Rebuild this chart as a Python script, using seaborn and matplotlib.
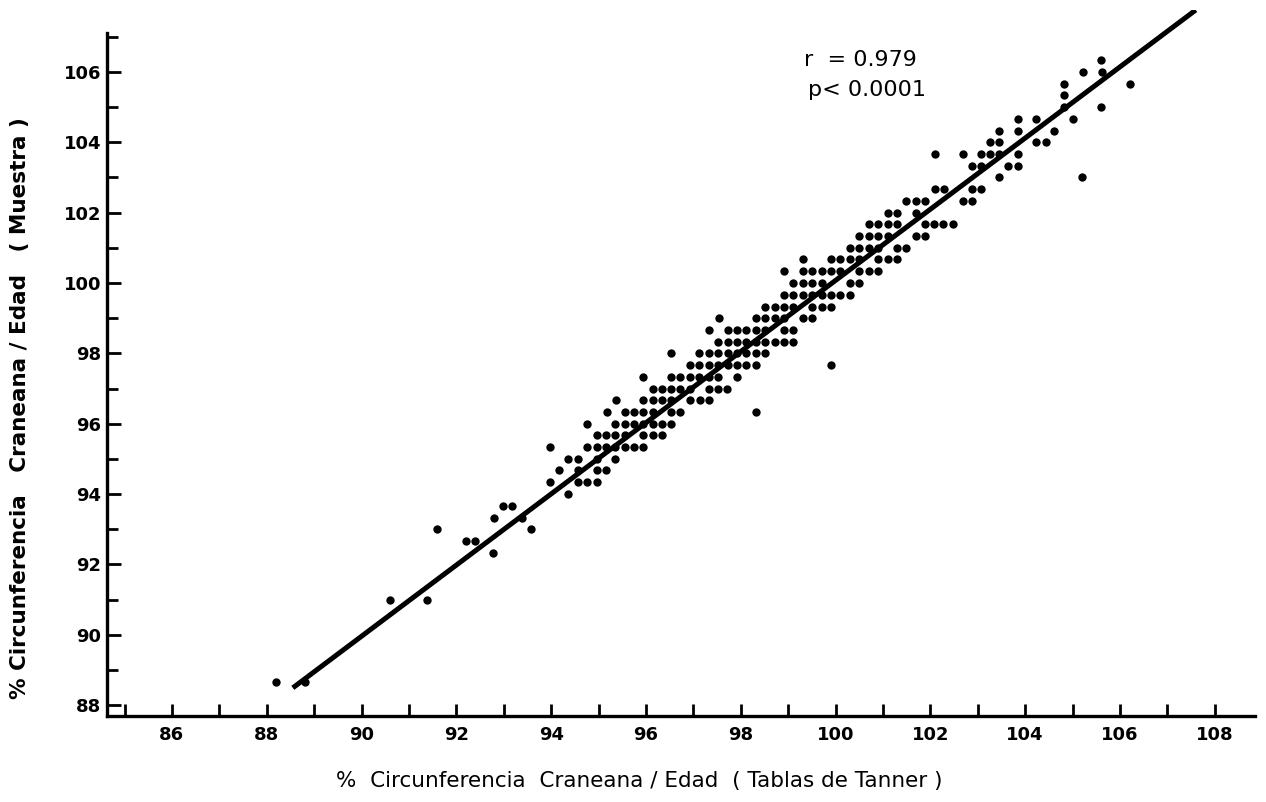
import matplotlib
matplotlib.use("Agg")
import matplotlib.pyplot as plt
import seaborn as sns
import pandas as pd
from matplotlib.ticker import FixedLocator

# ---------------- data ----------------
# y levels (% head circumference / age, sample) and the x values
# (% head circumference / age, Tanner tables) of the points on each level
muestra_levels = [88.67, 91.00, 92.33, 92.67, 93.00, 93.33, 93.67, 94.00,
                  94.33, 94.67, 95.00, 95.33, 95.67, 96.00, 96.33, 96.67,
                  97.00, 97.33, 97.67, 98.00, 98.33, 98.67, 99.00, 99.33,
                  99.67, 100.00, 100.33, 100.67, 101.00, 101.33, 101.67,
                  102.00, 102.33, 102.67, 103.00, 103.33, 103.67, 104.00,
                  104.33, 104.67, 105.00, 105.33, 105.67, 106.00, 106.33]
tanner_by_level = [
    [88.19, 88.81],
    [90.61, 91.39],
    [92.78],
    [92.20, 92.39],
    [91.60, 93.57],
    [92.80, 93.38],
    [92.99, 93.18],
    [94.36],
    [93.97, 94.56, 94.76, 94.96],
    [94.17, 94.57, 94.96, 95.16],
    [94.36, 94.56, 94.96, 95.35],
    [93.97, 94.76, 94.96, 95.16, 95.35, 95.56, 95.75, 95.94],
    [94.96, 95.16, 95.35, 95.56, 95.94, 96.14, 96.34],
    [94.76, 95.35, 95.56, 95.75, 95.94, 96.14, 96.34, 96.53],
    [95.17, 95.56, 95.75, 95.94, 96.14, 96.53, 96.72, 98.32],
    [95.36, 95.94, 96.14, 96.34, 96.53, 96.94, 97.14, 97.34],
    [96.14, 96.34, 96.53, 96.72, 96.93, 97.34, 97.53, 97.72],
    [95.94, 96.53, 96.72, 96.93, 97.13, 97.34, 97.53, 97.93],
    [96.93, 97.13, 97.34, 97.53, 97.74, 97.93, 98.12, 98.32, 99.90],
    [96.53, 97.13, 97.34, 97.53, 97.74, 97.93, 98.12, 98.32, 98.52],
    [97.53, 97.74, 97.93, 98.12, 98.32, 98.52, 98.72, 98.92, 99.11],
    [97.34, 97.74, 97.93, 98.12, 98.32, 98.52, 98.92, 99.11],
    [97.54, 98.32, 98.52, 98.72, 98.92, 99.32, 99.51],
    [98.52, 98.72, 98.92, 99.11, 99.51, 99.71, 99.90],
    [98.92, 99.11, 99.32, 99.51, 99.71, 99.90, 100.10, 100.30],
    [99.11, 99.32, 99.51, 99.71, 100.30, 100.50],
    [98.92, 99.32, 99.51, 99.71, 99.90, 100.10, 100.50, 100.70, 100.90],
    [99.32, 99.90, 100.10, 100.30, 100.50, 100.90, 101.10, 101.29],
    [100.30, 100.50, 100.70, 100.90, 101.29, 101.49],
    [100.50, 100.70, 100.90, 101.10, 101.70, 101.89],
    [100.70, 100.90, 101.10, 101.29, 101.89, 102.08, 102.27, 102.47],
    [101.10, 101.29, 101.70],
    [101.49, 101.70, 101.89, 102.68, 102.87],
    [102.10, 102.29, 102.87, 103.07],
    [103.45, 105.21],
    [102.87, 103.07, 103.64, 103.84],
    [102.10, 102.70, 103.07, 103.26, 103.45, 103.84],
    [103.26, 103.45, 104.24, 104.44],
    [103.45, 103.84, 104.61],
    [103.84, 104.24, 105.02],
    [104.83, 105.61],
    [104.83],
    [104.83, 106.21],
    [105.23, 105.63],
    [105.61],
]

# regression line end points
line_x = [88.55, 107.60]
line_y = [88.49, 107.76]

x_major = [86, 88, 90, 92, 94, 96, 98, 100, 102, 104, 106, 108]
x_minor = [85, 87, 89, 91, 93, 95, 97, 99, 101, 103, 105, 107]
y_major = [88, 90, 92, 94, 96, 98, 100, 102, 104, 106]
y_minor = [89, 91, 93, 95, 97, 99, 101, 103, 105, 107]

xlabel = "%  Circunferencia  Craneana / Edad  ( Tablas de Tanner )"
ylabel = "% Circunferencia   Craneana / Edad   ( Muestra )"
stat_r = "r  = 0.979"
stat_p = "p< 0.0001"

# ---------------- build table ----------------
rows = []
for yv, xs in zip(muestra_levels, tanner_by_level):
    for xv in xs:
        rows.append({"tanner": xv, "muestra": yv})
df = pd.DataFrame(rows)

# ---------------- plot ----------------
sns.set_theme(style="white")
plt.rcParams["font.family"] = ["DejaVu Sans"]

W, H = 1266, 802
fig = plt.figure(figsize=(W / 100, H / 100), dpi=100)
ax = fig.add_axes([107 / W, 1 - 716 / H, (1255 - 107) / W, (716 - 10) / H])

sns.scatterplot(data=df, x="tanner", y="muestra", ax=ax, color="black",
                marker="o", s=36, linewidth=0, legend=False, zorder=3)
ax.plot(line_x, line_y, color="black", lw=3.6, solid_capstyle="butt",
        zorder=4)

ax.set_xlim(84.63, 108.85)
ax.set_ylim(87.69, 107.76)

for side in ("top", "right"):
    ax.spines[side].set_visible(False)
for side in ("left", "bottom"):
    ax.spines[side].set_linewidth(2.4)
    ax.spines[side].set_color("black")
ax.spines["left"].set_bounds(87.69, 107.11)

ax.xaxis.set_major_locator(FixedLocator(x_major))
ax.xaxis.set_minor_locator(FixedLocator(x_minor))
ax.yaxis.set_major_locator(FixedLocator(y_major))
ax.yaxis.set_minor_locator(FixedLocator(y_minor))

ax.tick_params(axis="x", which="both", bottom=True, top=False,
               direction="in", length=9, width=2, color="black", pad=7,
               labelcolor="black")
ax.tick_params(axis="y", which="major", left=True, right=False,
               direction="in", length=10, width=2, color="black", pad=4,
               labelcolor="black")
ax.tick_params(axis="y", which="minor", left=True, right=False,
               direction="in", length=8, width=2, color="black")
ax.set_xticklabels([str(v) for v in x_major], fontsize=13, fontweight="bold")
ax.set_yticklabels([str(v) for v in y_major], fontsize=13, fontweight="bold")

ax.set_xlabel("")
ax.set_ylabel("")
fig.text(639 / W, 1 - 781 / H, xlabel, ha="center", va="center",
         fontsize=15.5, color="black")
fig.text(20 / W, 1 - 408 / H, ylabel, ha="center", va="center",
         rotation=90, fontsize=15.5, fontweight="bold", color="black")

fig.text(917 / W, 1 - 60 / H, stat_r, ha="right", va="center", fontsize=16,
         color="black")
fig.text(926 / W, 1 - 90 / H, stat_p, ha="right", va="center", fontsize=16,
         color="black")

fig.savefig("out.png", dpi=100, facecolor="white")
